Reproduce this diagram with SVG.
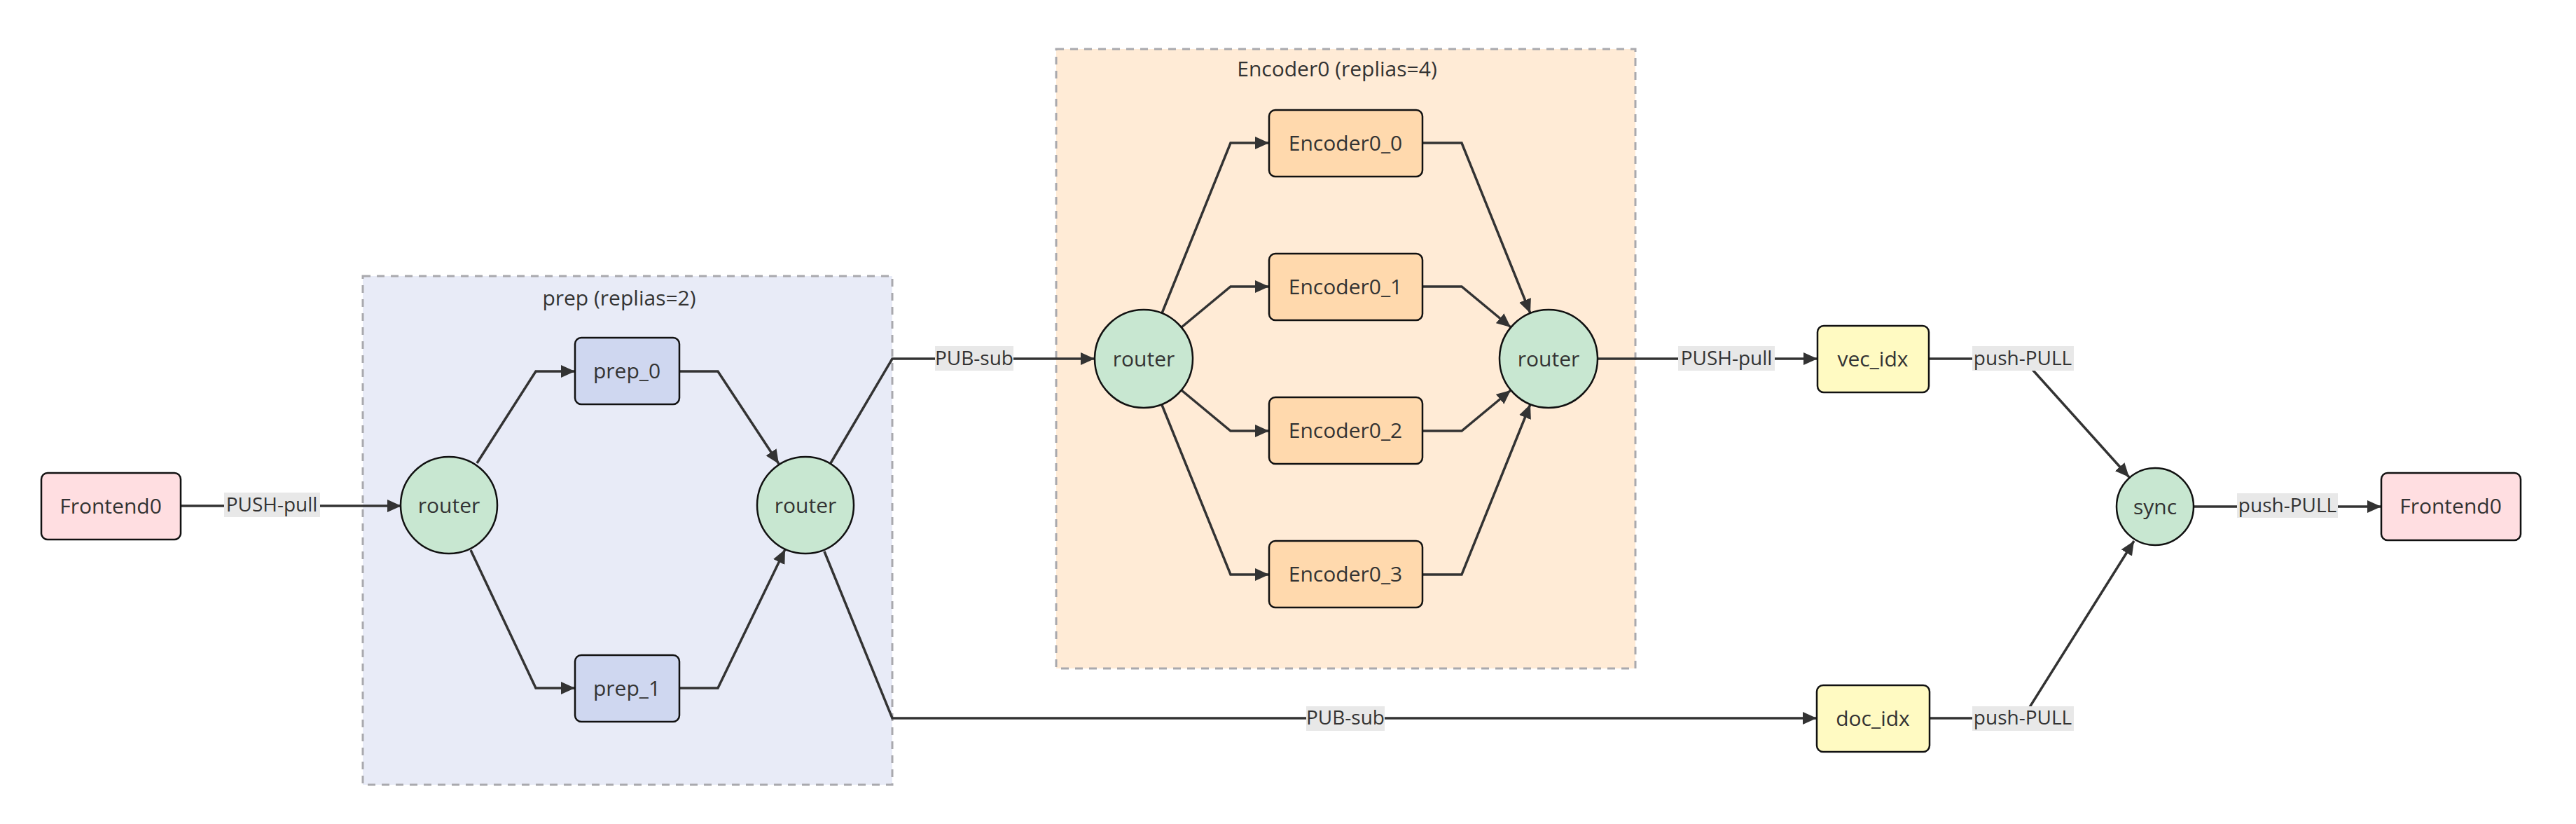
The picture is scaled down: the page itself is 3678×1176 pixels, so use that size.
<svg xmlns="http://www.w3.org/2000/svg" width="3678" height="1176" viewBox="0 0 3678 1176">
<style>
text{font-family:"Open Sans","Noto Sans","DejaVu Sans",sans-serif;font-size:30px;fill:#333;text-anchor:middle;dominant-baseline:central}
text.t{font-size:28px}
.cl{stroke:#a9a9ae;stroke-width:3;stroke-dasharray:11 9}
.nd{stroke:#111;stroke-width:2.5}
.fe{fill:#ffdee1}
.pr{fill:#cfd7f0}
.en{fill:#ffd9ad}
.ix{fill:#fffac2}
.rt{fill:#c8e7d1}
.e{fill:none;stroke:#333;stroke-width:3.5;marker-end:url(#ah)}
.lb{fill:#e8e8e8}
</style>
<defs>
<marker id="ah" markerUnits="userSpaceOnUse" markerWidth="20" markerHeight="20" viewBox="0 0 20 20" refX="20" refY="10" orient="auto">
<path d="M0,1 L20,10 L0,19 Z" fill="#333"/>
</marker>
</defs>
<rect width="3678" height="1176" fill="#fff"/>
<g id="cluster-prep">
<rect class="cl" x="518" y="394" width="756" height="726" fill="#e8ebf7"/>
<text x="884" y="424">prep (replias=2)</text>
</g>
<g id="cluster-encoder">
<rect class="cl" x="1508" y="70" width="827" height="884" fill="#ffebd6"/>
<text x="1909" y="97">Encoder0 (replias=4)</text>
</g>
<g id="connectors">
<path class="e" d="M258,722 L573,722"/>
<path class="e" d="M681,661 L765,530 L821,530"/>
<path class="e" d="M672,785 L765,982 L821,982"/>
<path class="e" d="M970,530 L1025,530 L1112,662"/>
<path class="e" d="M970,982 L1025,982 L1121,784"/>
<path class="e" d="M1186,661 L1274,512 L1563,512"/>
<path class="e" d="M1177,787 L1274,1025 L2594,1025"/>
<path class="e" d="M1659,447 L1757,204 L1812,204"/>
<path class="e" d="M1687,467 L1757,409 L1812,409"/>
<path class="e" d="M1687,557 L1757,615 L1812,615"/>
<path class="e" d="M1659,578 L1757,820 L1812,820"/>
<path class="e" d="M2031,204 L2087,204 L2185,447"/>
<path class="e" d="M2031,409 L2087,409 L2157,467"/>
<path class="e" d="M2031,615 L2087,615 L2157,557"/>
<path class="e" d="M2031,820 L2087,820 L2185,577"/>
<path class="e" d="M2281,512 L2595,512"/>
<path class="e" d="M2754,512 L2888,512 L3040,681"/>
<path class="e" d="M2755,1025 L2888,1025 L3047,772"/>
<path class="e" d="M3132,723 L3400,723"/>
<rect class="lb" x="320" y="703" width="137" height="35"/>
<text class="t" x="388" y="719">PUSH-pull</text>
<rect class="lb" x="1335" y="494" width="112" height="35"/>
<text class="t" x="1391" y="510">PUB-sub</text>
<rect class="lb" x="1865" y="1008" width="112" height="35"/>
<text class="t" x="1921" y="1023">PUB-sub</text>
<rect class="lb" x="2396" y="494" width="138" height="35"/>
<text class="t" x="2465" y="510">PUSH-pull</text>
<rect class="lb" x="2816" y="494" width="145" height="35"/>
<text class="t" x="2888" y="510">push-PULL</text>
<rect class="lb" x="2816" y="1008" width="145" height="35"/>
<text class="t" x="2888" y="1023">push-PULL</text>
<rect class="lb" x="3194" y="704" width="144" height="35"/>
<text class="t" x="3266" y="720">push-PULL</text>
</g>
<g id="frontend0-in"><rect class="nd fe" x="59" y="675" width="199" height="95" rx="9"/><text x="158" y="721">Frontend0</text></g>
<g id="prep-router-in"><circle class="nd rt" cx="641" cy="721" r="69"/><text x="641" y="720">router</text></g>
<g id="prep_0"><rect class="nd pr" x="821" y="482" width="149" height="95" rx="9"/><text x="895" y="528">prep_0</text></g>
<g id="prep_1"><rect class="nd pr" x="821" y="935" width="149" height="95" rx="9"/><text x="895" y="981">prep_1</text></g>
<g id="prep-router-out"><circle class="nd rt" cx="1150" cy="721" r="69"/><text x="1150" y="720">router</text></g>
<g id="enc-router-in"><circle class="nd rt" cx="1633" cy="512" r="70"/><text x="1633" y="511">router</text></g>
<g id="Encoder0_0"><rect class="nd en" x="1812" y="157" width="219" height="95" rx="9"/><text x="1921" y="203">Encoder0_0</text></g>
<g id="Encoder0_1"><rect class="nd en" x="1812" y="362" width="219" height="95" rx="9"/><text x="1921" y="408">Encoder0_1</text></g>
<g id="Encoder0_2"><rect class="nd en" x="1812" y="567" width="219" height="95" rx="9"/><text x="1921" y="613">Encoder0_2</text></g>
<g id="Encoder0_3"><rect class="nd en" x="1812" y="772" width="219" height="95" rx="9"/><text x="1921" y="818">Encoder0_3</text></g>
<g id="enc-router-out"><circle class="nd rt" cx="2211" cy="512" r="70"/><text x="2211" y="511">router</text></g>
<g id="vec_idx"><rect class="nd ix" x="2595" y="465" width="159" height="95" rx="9"/><text x="2674" y="511">vec_idx</text></g>
<g id="doc_idx"><rect class="nd ix" x="2594" y="978" width="161" height="95" rx="9"/><text x="2674" y="1024">doc_idx</text></g>
<g id="sync"><circle class="nd rt" cx="3077" cy="723" r="55"/><text x="3077" y="722">sync</text></g>
<g id="frontend0-out"><rect class="nd fe" x="3400" y="675" width="199" height="96" rx="9"/><text x="3499" y="721">Frontend0</text></g>
</svg>
